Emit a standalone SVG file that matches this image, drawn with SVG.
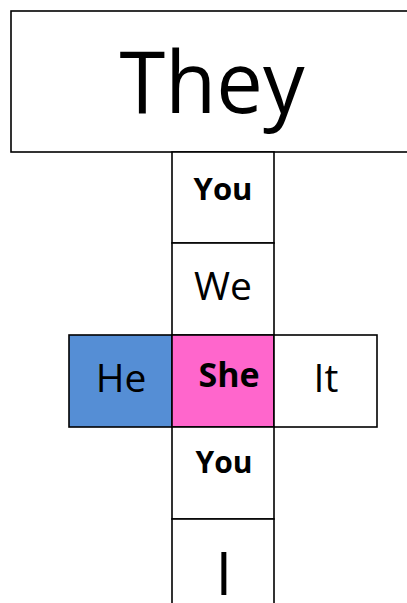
<svg xmlns="http://www.w3.org/2000/svg" width="407" height="603" viewBox="0 0 407 603">
<style>
.n{stroke:#000;stroke-width:1.6;fill:#fff}
text{font-family:"Open Sans","Liberation Sans",sans-serif;fill:#000;text-anchor:middle}
.b{font-weight:bold}
</style>
<rect width="407" height="603" fill="#fff"/>
<g id="connectors"></g>
<g id="they"><rect class="n" x="11" y="11" width="400" height="141"/><text x="212" y="113" font-size="86" textLength="185" lengthAdjust="spacingAndGlyphs">They</text></g>
<g id="you1"><rect class="n" x="172" y="152" width="102" height="91"/><text class="b" x="223" y="200" font-size="31">You</text></g>
<g id="we"><rect class="n" x="172" y="243" width="102" height="92"/><text x="223" y="300" font-size="39">We</text></g>
<g id="he"><rect class="n" x="69" y="335" width="103" height="92" style="fill:#558ED5"/><text x="121" y="392" font-size="39">He</text></g>
<g id="she"><rect class="n" x="172" y="335" width="102" height="92" style="fill:#FF66CC"/><text class="b" x="229" y="387" font-size="34">She</text></g>
<g id="it"><rect class="n" x="274" y="335" width="103" height="92"/><text x="326" y="392" font-size="39">It</text></g>
<g id="you2"><rect class="n" x="172" y="427" width="102" height="92"/><text class="b" x="224" y="473" font-size="30">You</text></g>
<g id="i"><rect class="n" x="172" y="519" width="102" height="100"/><text x="224" y="595" font-size="60">I</text></g>
</svg>
